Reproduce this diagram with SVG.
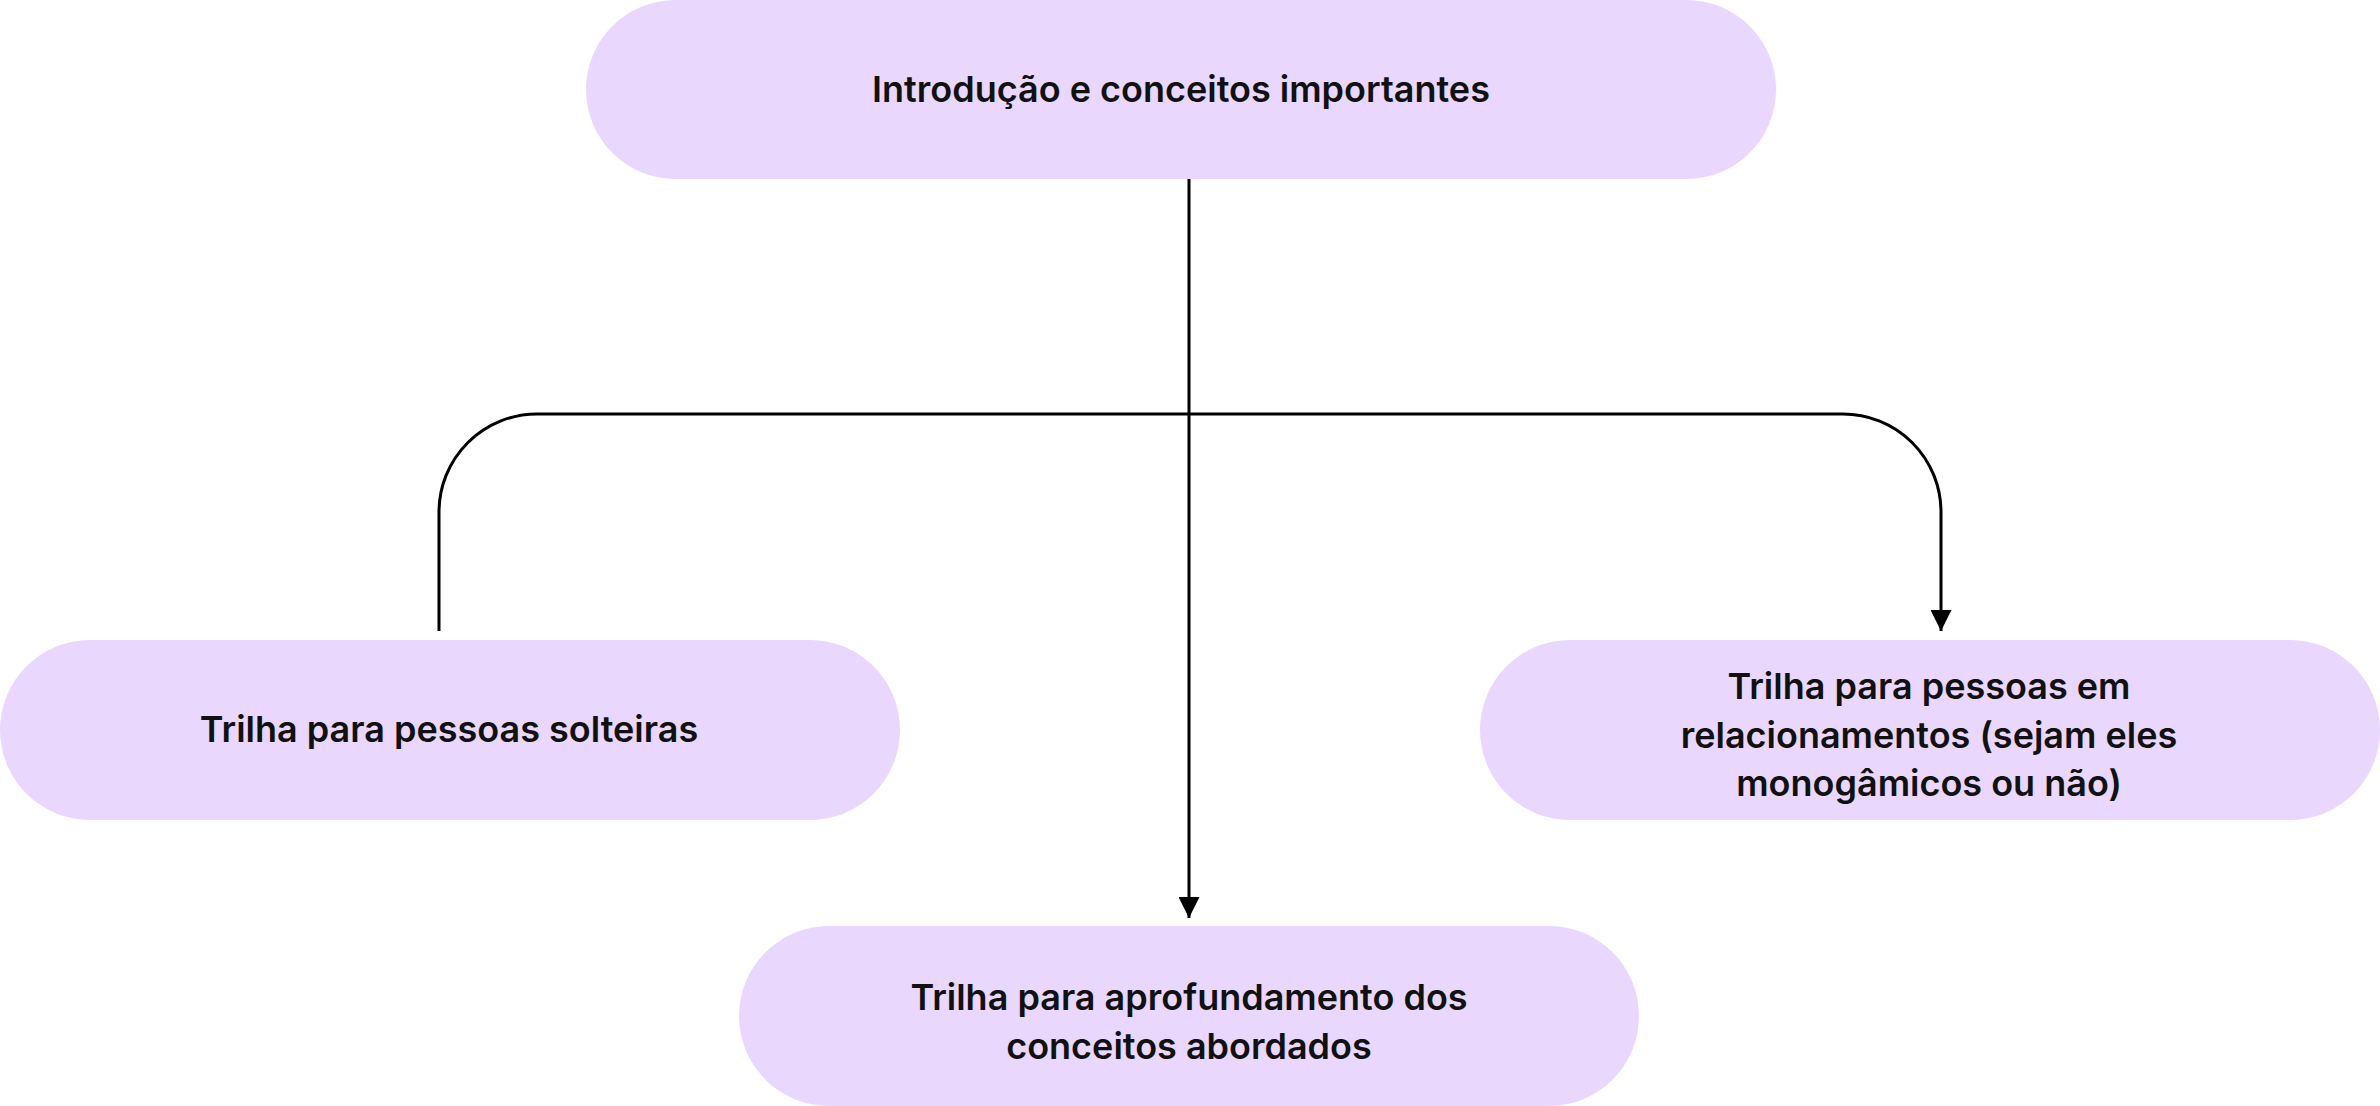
<svg xmlns="http://www.w3.org/2000/svg" width="2380" height="1106" viewBox="0 0 2380 1106">
<defs>
<style>
.n{fill:#e9d7fe}
.t{font-family:Inter,"Noto Sans",sans-serif;font-weight:600;font-size:36px;fill:#111;text-anchor:middle;dominant-baseline:central}
.c{fill:none;stroke:#000;stroke-width:3}
</style>
<marker id="a" viewBox="0 0 10 10" refX="10" refY="5" markerWidth="8" markerHeight="8" markerUnits="userSpaceOnUse" orient="auto"><path d="M0,0L10,5L0,10z" fill="#000"/></marker>
<marker id="b" viewBox="0 0 10 10" refX="10" refY="5" markerWidth="7" markerHeight="7" orient="auto"><path d="M0,0L10,5L0,10z" fill="#000"/></marker>
</defs>
<g id="connectors">
<path class="c" d="M1189,179V918" marker-end="url(#b)"/>
<path class="c" d="M439,631V512A98,98 0 0 1 537,414H1843A98,98 0 0 1 1941,512V631" marker-end="url(#b)"/>
</g>
<g id="n1"><rect class="n" x="586" y="0" width="1190" height="179" rx="89.5"/><text class="t" x="1181" y="89">Introdução e conceitos importantes</text></g>
<g id="n2"><rect class="n" x="0" y="640" width="900" height="180" rx="90"/><text class="t" x="449" y="729">Trilha para pessoas solteiras</text></g>
<g id="n3"><rect class="n" x="1480" y="640" width="900" height="180" rx="90"/><text class="t" x="1929" y="686">Trilha para pessoas em</text><text class="t" x="1929" y="735">relacionamentos (sejam eles</text><text class="t" x="1929" y="783">monogâmicos ou não)</text></g>
<g id="n4"><rect class="n" x="739" y="926" width="900" height="180" rx="90"/><text class="t" x="1189" y="997">Trilha para aprofundamento dos</text><text class="t" x="1189" y="1046">conceitos abordados</text></g>
</svg>
